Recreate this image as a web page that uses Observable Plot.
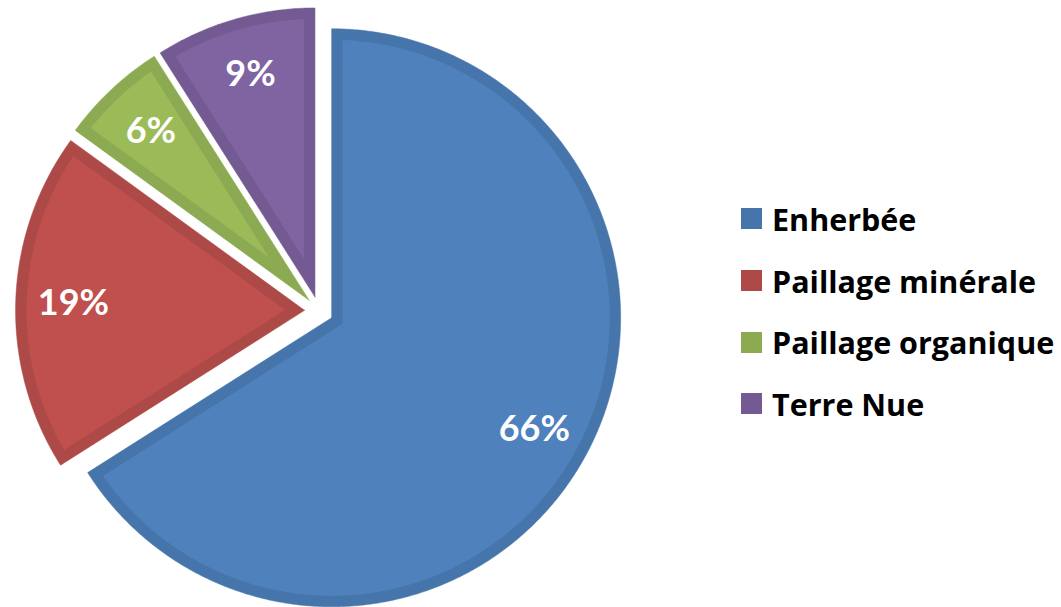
<!DOCTYPE html>
<html>
<head>
<meta charset="utf-8">
<script src="https://cdn.jsdelivr.net/npm/d3@7"></script>
<script src="https://cdn.jsdelivr.net/npm/@observablehq/plot@0.6"></script>
<style>
  html, body { margin: 0; padding: 0; background: #fff; }
  #wrap { position: relative; width: 1061px; height: 607px; overflow: hidden; }
  #legend { position: absolute; left: 741px; top: 188px; width: 320px; }
  .lg-swatches { font-family: "Open Sans", Lato, sans-serif !important; font-weight: 700; font-size: 30.5px !important; color: #000; margin: 0 !important; }
  .lg-swatch { height: 61.7px; padding: 0 !important; display: flex; align-items: center; }
  .lg-swatch > svg { margin-right: 10px !important; }
  .lg-swatch-label { overflow: visible !important; text-overflow: clip !important; }
</style>
</head>
<body>
<div id="wrap"><div id="legend"></div></div>
<script>
// ---- data ----
const categories = ["Enherbée", "Paillage minérale", "Paillage organique", "Terre Nue"];
const values = [66, 19, 6, 9];
const labels = ["66%", "19%", "6%", "9%"];

// ---- styles ----
const faceColors = ["#4F81BD", "#C0504D", "#9BBB59", "#8064A2"];
const edgeColors = ["#4675AC", "#AD4A47", "#8CAA51", "#735A93"];

const R = 1;             // pie radius (data units)
const EXPLODE = 0.05;    // slice offset
const BAND = 0.038;      // darker rim width
const LABEL_POS = 0.8;   // label distance from slice apex
const STEP = Math.PI / 360;

const arcs = d3.pie().sort(null).value(d => d)(values);

// y up, angle clockwise from 12 o'clock
const P = (cx, cy, a, r) => ({x: cx + r * Math.sin(a), y: cy + r * Math.cos(a)});

const rows = [];
const labelRows = [];
arcs.forEach((a, i) => {
  const m = (a.startAngle + a.endAngle) / 2;
  const theta = a.endAngle - a.startAngle;
  const apex = P(0, 0, m, EXPLODE);
  // outer (rim) polygon
  const outer = [apex];
  for (let t = a.startAngle; t < a.endAngle; t += STEP) outer.push(P(apex.x, apex.y, t, R));
  outer.push(P(apex.x, apex.y, a.endAngle, R), apex);
  outer.forEach((p, k) => rows.push({...p, key: "e" + i, layer: 0, color: edgeColors[i], k}));
  // inner (face) polygon, inset by BAND
  const inApex = P(apex.x, apex.y, m, BAND / Math.sin(theta / 2));
  const r2 = R - BAND;
  const dlt = Math.asin(BAND / r2);
  const inner = [inApex];
  for (let t = a.startAngle + dlt; t < a.endAngle - dlt; t += STEP) inner.push(P(apex.x, apex.y, t, r2));
  inner.push(P(apex.x, apex.y, a.endAngle - dlt, r2), inApex);
  inner.forEach((p, k) => rows.push({...p, key: "f" + i, layer: 1, color: faceColors[i], k}));
  labelRows.push({...P(apex.x, apex.y, m, LABEL_POS * R), label: labels[i]});
});

const PX = 289; // pixels per unit
const cx = 318.5, cy = 310.3;
const W = 1061, H = 607;

const chart = Plot.plot({
  width: W,
  height: H,
  margin: 0,
  x: {domain: [-cx / PX, (W - cx) / PX], axis: null},
  y: {domain: [-(H - cy) / PX, cy / PX], axis: null},
  color: {type: "identity"},
  marks: [
    Plot.line(rows.filter(d => d.layer === 0), {x: "x", y: "y", z: "key", fill: "color", stroke: "color", strokeWidth: 0.5}),
    Plot.line(rows.filter(d => d.layer === 1), {x: "x", y: "y", z: "key", fill: "color", stroke: "none"}),
    Plot.text(labelRows, {x: "x", y: "y", text: "label", fill: "white", fontSize: 36, fontWeight: "bold", fontFamily: "Lato", textAnchor: "middle"})
  ]
});
document.getElementById("wrap").prepend(chart);

const legend = Plot.legend({
  color: {domain: categories, range: edgeColors},
  legend: "swatches",
  columns: 1,
  swatchSize: 21,
  className: "lg"
});
document.getElementById("legend").appendChild(legend);
</script>
</body>
</html>
